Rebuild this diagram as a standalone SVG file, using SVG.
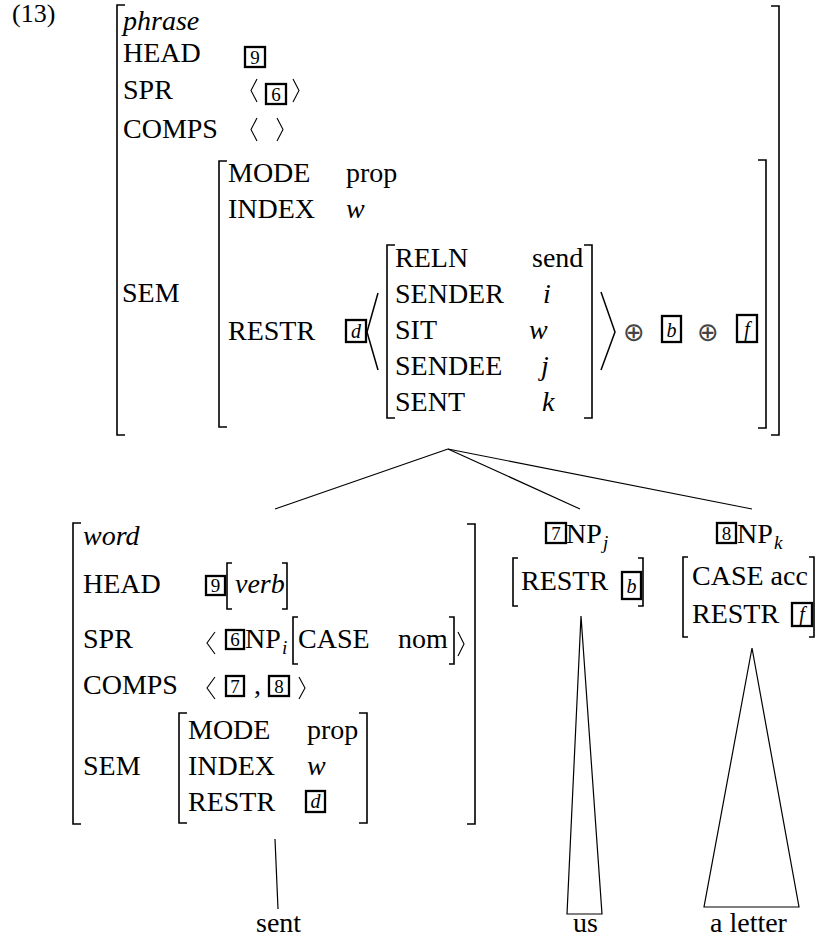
<svg xmlns="http://www.w3.org/2000/svg" width="815" height="939" viewBox="0 0 815 939">
<style>
.t{font-family:"Liberation Serif",serif;font-size:28px;fill:#000}
.i{font-style:italic}
.sub{font-family:"Liberation Serif",serif;font-size:19px;font-style:italic;fill:#000}
.bn{font-family:"Liberation Serif",serif;font-size:19px;fill:#000;text-anchor:middle}
.bi{font-family:"Liberation Serif",serif;font-size:20px;font-style:italic;fill:#000;text-anchor:middle}
.op{font-family:"DejaVu Sans",sans-serif;font-size:26px;fill:#444;text-anchor:middle}
.br{fill:none;stroke:#000;stroke-width:1.6}
.ang{fill:none;stroke:#000;stroke-width:1.1}
.bang{fill:none;stroke:#000;stroke-width:1.5}
.box{fill:none;stroke:#000;stroke-width:2.3}
.ln{fill:none;stroke:#000;stroke-width:1.2}
</style>
<rect width="815" height="939" fill="#fff"/>
<g id="example-number"><text class="t" x="12" y="22" style="font-size:26px">(13)</text></g>
<g id="node-phrase">
<path class="br" d="M125 5H117V435H125"/>
<path class="br" d="M771 6H779V435H771"/>
<text class="t i" x="123" y="30">phrase</text>
<text class="t" x="123" y="62">HEAD</text>
<rect class="box" x="245" y="47" width="20" height="20"/><text class="bn" x="255" y="64">9</text>
<text class="t" x="123" y="99">SPR</text>
<polyline class="ang" points="257,79 251,90.5 257,102"/>
<rect class="box" x="266" y="84" width="20" height="20"/><text class="bn" x="276" y="101">6</text>
<polyline class="ang" points="293,79 299,90.5 293,102"/>
<text class="t" x="123" y="138">COMPS</text>
<polyline class="ang" points="257,118 251,129.5 257,141"/>
<polyline class="ang" points="277,118 283,129.5 277,141"/>
<text class="t" x="122" y="302">SEM</text>
<path class="br" d="M227 161H219V427H227"/>
<path class="br" d="M758 160H766V428H758"/>
<text class="t" x="228" y="182">MODE</text><text class="t" x="346" y="182">prop</text>
<text class="t" x="228" y="218">INDEX</text><text class="t i" x="346" y="218">w</text>
<text class="t" x="228" y="340">RESTR</text>
<rect class="box" x="346" y="320" width="20" height="22"/><text class="bi" x="356" y="338">d</text>
<polyline class="bang" points="378,293 367,332 378,370"/>
<path class="br" d="M395 245H387V418H395"/>
<path class="br" d="M584 245H592V418H584"/>
<text class="t" x="395" y="267">RELN</text><text class="t" x="532" y="267">send</text>
<text class="t" x="395" y="303">SENDER</text><text class="t i" x="543" y="303">i</text>
<text class="t" x="395" y="339">SIT</text><text class="t i" x="529" y="339">w</text>
<text class="t" x="395" y="375">SENDEE</text><text class="t i" x="541" y="375">j</text>
<text class="t" x="395" y="411">SENT</text><text class="t i" x="542" y="411">k</text>
<polyline class="bang" points="601,292 615,332 601,370"/>
<text class="op" x="634" y="341">⊕</text>
<rect class="box" x="662" y="316" width="19" height="26"/><text class="bi" x="671.5" y="337">b</text>
<text class="op" x="708" y="341">⊕</text>
<rect class="box" x="737" y="315" width="20" height="27"/><text class="bi" x="747" y="336">f</text>
</g>
<g id="connectors">
<line class="ln" x1="448" y1="449" x2="275" y2="509"/>
<line class="ln" x1="448" y1="449" x2="580" y2="509"/>
<line class="ln" x1="448" y1="449" x2="752" y2="509"/>
<line class="ln" x1="275" y1="839" x2="278" y2="909"/>
<polygon class="ln" points="581,616 567,914 602,914"/>
<polygon class="ln" points="752,648 704,907 799,907"/>
</g>
<g id="node-word">
<path class="br" d="M81 523H73V824H81"/>
<path class="br" d="M467 524H475V824H467"/>
<text class="t i" x="83" y="545">word</text>
<text class="t" x="83" y="593">HEAD</text>
<rect class="box" x="206" y="576" width="19" height="19"/><text class="bn" x="215.5" y="592">9</text>
<path class="br" d="M232 563H227V609H232"/>
<text class="t i" x="235" y="593">verb</text>
<path class="br" d="M282 563H287V609H282"/>
<text class="t" x="83" y="648">SPR</text>
<polyline class="ang" points="215,632 207,643 215,654"/>
<rect class="box" x="226" y="630" width="18" height="19"/><text class="bn" x="235" y="646">6</text>
<text class="t" x="245" y="648">NP</text><text class="sub" x="282" y="654">i</text>
<path class="br" d="M298 617H293V664H298"/>
<text class="t" x="298" y="648">CASE</text><text class="t" x="398" y="648">nom</text>
<path class="br" d="M449 617H454V664H449"/>
<polyline class="ang" points="458,632 464,644 458,656"/>
<text class="t" x="83" y="694">COMPS</text>
<polyline class="ang" points="215,677 207,688 215,699"/>
<rect class="box" x="226" y="676" width="18" height="20"/><text class="bn" x="235" y="693">7</text>
<text class="t" x="254" y="694">,</text>
<rect class="box" x="269" y="676" width="20" height="20"/><text class="bn" x="279" y="693">8</text>
<polyline class="ang" points="299,677 305,688 299,699"/>
<text class="t" x="83" y="775">SEM</text>
<path class="br" d="M187 713H179V823H187"/>
<path class="br" d="M359 713H367V823H359"/>
<text class="t" x="188" y="739">MODE</text><text class="t" x="307" y="739">prop</text>
<text class="t" x="188" y="775">INDEX</text><text class="t i" x="307" y="775">w</text>
<text class="t" x="188" y="811">RESTR</text>
<rect class="box" x="306" y="791" width="19" height="21"/><text class="bi" x="315.5" y="808">d</text>
</g>
<g id="node-np-j">
<rect class="box" x="546" y="523" width="20" height="20"/><text class="bn" x="556" y="540">7</text>
<text class="t" x="566" y="543">NP</text><text class="sub" x="603" y="549">j</text>
<path class="br" d="M518 558H513V606H518"/>
<text class="t" x="521" y="590">RESTR</text>
<rect class="box" x="622" y="572" width="19" height="27"/><text class="bi" x="631.5" y="593">b</text>
<path class="br" d="M638 558H643V606H638"/>
</g>
<g id="node-np-k">
<rect class="box" x="717" y="523" width="19" height="20"/><text class="bn" x="726.5" y="540">8</text>
<text class="t" x="737" y="543">NP</text><text class="sub" x="774" y="549">k</text>
<path class="br" d="M688 557H683V637H688"/>
<text class="t" x="692" y="585">CASE acc</text>
<text class="t" x="692" y="623">RESTR</text>
<rect class="box" x="792" y="603" width="20" height="23"/><text class="bi" x="802" y="621">f</text>
<path class="br" d="M809 557H814V637H809"/>
</g>
<g id="leaf-sent"><text class="t" x="256" y="932">sent</text></g>
<g id="leaf-us"><text class="t" x="573" y="932">us</text></g>
<g id="leaf-a-letter"><text class="t" x="710" y="932">a letter</text></g>
</svg>
